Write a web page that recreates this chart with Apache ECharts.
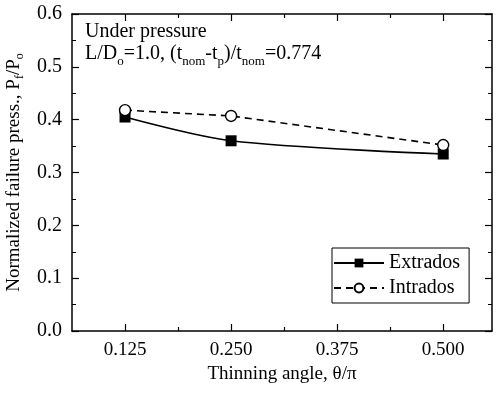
<!DOCTYPE html>
<html>
<head>
<meta charset="UTF-8">
<script src="https://cdn.jsdelivr.net/npm/echarts@6/dist/echarts.min.js"></script>
<style>
  html, body { margin: 0; padding: 0; background: #fff; }
  #chart { width: 496px; height: 396px; }
</style>
</head>
<body>
<div id="chart"></div>
<script>
// data
const angles = [0.125, 0.25, 0.5];
const extrados = [0.405, 0.360, 0.335];
const intrados = [0.418, 0.407, 0.352];
const xTicks = [0.125, 0.25, 0.375, 0.5];
const xMinorTicks = [0.1875, 0.3125, 0.4375];

const serif = 'Liberation Serif';
const chart = echarts.init(document.getElementById('chart'));

const baseX = {
  type: 'value', min: 0.0625, max: 0.5575,
  splitLine: { show: false },
  axisLine: { lineStyle: { color: '#000', width: 1.5 } }
};
function xAx(pos, ticks, len, labels, line) {
  return Object.assign({}, baseX, {
    position: pos,
    axisLine: { show: line, lineStyle: { color: '#000', width: 1.5 } },
    axisTick: { inside: true, length: len, customValues: ticks, lineStyle: { color: '#000', width: 1.2 } },
    axisLabel: labels
      ? { customValues: xTicks, formatter: v => v.toFixed(3), color: '#000', fontFamily: serif, fontSize: 19, margin: 10 }
      : { show: false }
  });
}
const xMain = xAx('bottom', xTicks, 7, true, true);
xMain.name = 'Thinning angle, θ/π';
xMain.nameLocation = 'middle';
xMain.nameGap = 33;
xMain.nameTextStyle = { color: '#000', fontFamily: serif, fontSize: 19 };

const yBase = {
  type: 'value', min: 0, max: 0.6, interval: 0.1,
  splitLine: { show: false },
  axisLine: { lineStyle: { color: '#000', width: 1.5 } },
  axisTick: { inside: true, length: 7, lineStyle: { color: '#000', width: 1.2 } },
  minorTick: { show: true, splitNumber: 2, length: 4, lineStyle: { color: '#000', width: 1 } }
};

chart.setOption({
  animation: false,
  grid: { left: 72, right: 4, top: 14, bottom: 65, outerBoundsMode: 'none' },
  xAxis: [
    xMain,
    xAx('bottom', xMinorTicks, 4, false, false),
    xAx('top', xTicks, 7, false, true),
    xAx('top', xMinorTicks, 4, false, false)
  ],
  yAxis: [
    Object.assign({}, yBase, {
      position: 'left',
      axisLabel: { formatter: v => v.toFixed(1), color: '#000', fontFamily: serif, fontSize: 20, margin: 10 },
      name: '{a|Normalized failure press., P}{s|f}{a|/P}{s|o}',
      nameLocation: 'middle',
      nameGap: 47,
      nameTextStyle: {
        color: '#000', fontFamily: serif, fontSize: 19,
        rich: {
          a: { fontFamily: serif, fontSize: 19, color: '#000' },
          s: { fontFamily: serif, fontSize: 12, color: '#000', verticalAlign: 'bottom', padding: [0, 0, -3, 0] }
        }
      }
    }),
    Object.assign({}, yBase, { position: 'right', axisLabel: { show: false } })
  ],
  legend: {
    orient: 'vertical',
    left: 332, top: 248,
    borderColor: '#000', borderWidth: 1, borderRadius: 0,
    padding: [5, 9, 5, 1],
    itemGap: 5,
    itemWidth: 50, itemHeight: 11,
    textStyle: { color: '#000', fontFamily: serif, fontSize: 20 },
    data: ['Extrados', 'Intrados']
  },
  graphic: [
    {
      type: 'text', left: 85, top: 22,
      style: { text: 'Under pressure', font: '20px "Liberation Serif"', fill: '#000' }
    },
    {
      type: 'text', left: 85, top: 44,
      style: {
        text: '{a|L/D}{s|o}{a|=1.0, (t}{s|nom}{a|-t}{s|p}{a|)/t}{s|nom}{a|=0.774}',
        fill: '#000',
        rich: {
          a: { fontFamily: serif, fontSize: 20, fill: '#000', color: '#000' },
          s: { fontFamily: serif, fontSize: 13, fill: '#000', color: '#000', verticalAlign: 'bottom', padding: [0, 0, -4, 0] }
        }
      }
    }
  ],
  series: [
    {
      name: 'Extrados', type: 'line', smooth: 0.3,
      data: angles.map((a, i) => [a, extrados[i]]),
      symbol: 'rect', symbolSize: 11,
      itemStyle: { color: '#000' },
      lineStyle: { color: '#000', width: 1.6 },
      z: 2
    },
    {
      name: 'Intrados', type: 'line',
      data: angles.map((a, i) => [a, intrados[i]]),
      symbol: 'circle', symbolSize: 11,
      itemStyle: { color: '#fff', borderColor: '#000', borderWidth: 1.4 },
      lineStyle: { color: '#000', width: 1.6, type: [7, 5] },
      z: 3
    }
  ]
});
</script>
</body>
</html>
